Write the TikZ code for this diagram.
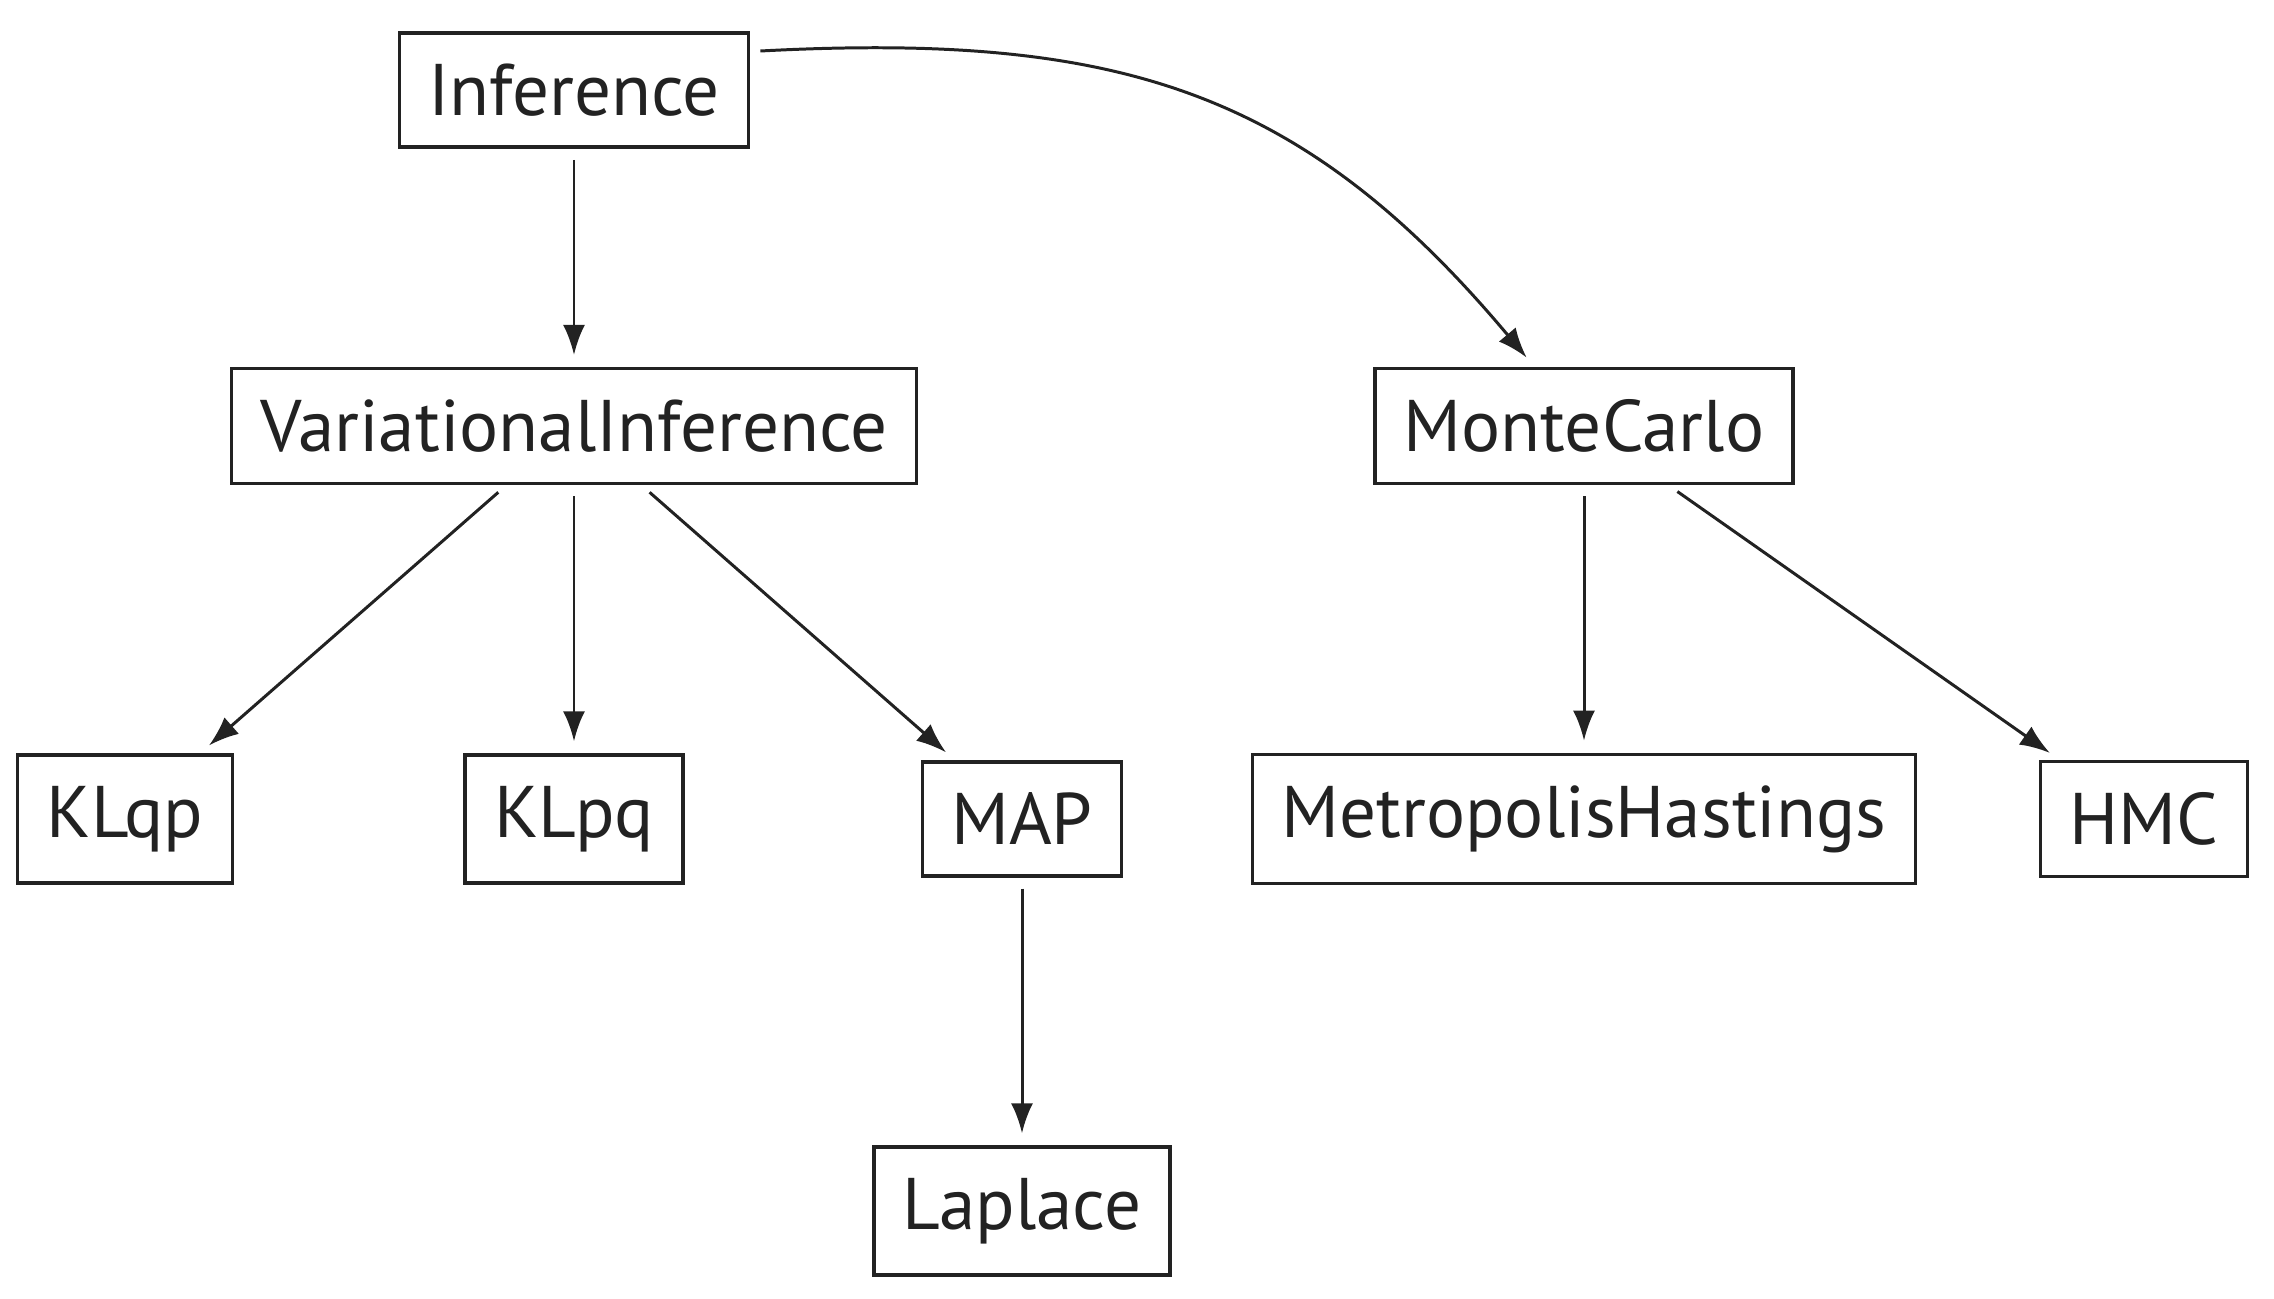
\documentclass[tikz,border=0pt]{standalone}
\usepackage{fontspec}
\setmainfont{PT Sans}
\usepackage{tikz}
\usetikzlibrary{arrows.meta, positioning}
\definecolor{ink}{HTML}{222222}

\begin{document}
\begin{tikzpicture}[
    box/.style={draw=ink, line width=1pt, fill=white, inner xsep=0.29cm,
                inner ysep=0.31cm, text=ink, font=\fontsize{20.8}{25}\selectfont},
    link/.style={-{Latex[length=0.3cm, width=0.22cm]}, draw=ink, line width=0.85pt,
                 shorten <=0.11cm, shorten >=0.12cm}]
  \useasboundingbox (0,0) rectangle (22.74,12.98);

  % Root
  \node[box] (inference) at (5.74, 12.08) {Inference};

  % Families
  \node[box] (variational) at (5.74, 8.72) {VariationalInference};
  \node[box] (montecarlo) at (15.84, 8.72) {MonteCarlo};

  % Algorithms
  \node[box] (klqp) at (1.25, 4.79) {KLqp};
  \node[box] (klpq) at (5.74, 4.79) {KLpq};
  \node[box] (map) at (10.22, 4.79) {MAP};
  \node[box] (metropolis) at (15.84, 4.79) {MetropolisHastings};
  \node[box] (hmc) at (21.44, 4.79) {HMC};
  \node[box] (laplace) at (10.22, 0.87) {Laplace};

  % Edges
  \draw[link] (inference) -- (variational);
  \draw[link, shorten <=0pt] ([xshift=0.1cm, yshift=0.39cm]inference.east)
    to[out=3, in=130, looseness=1.1] (montecarlo);
  \draw[link] (variational) -- (klqp);
  \draw[link] (variational) -- (klpq);
  \draw[link] (variational) -- (map);
  \draw[link] (map) -- (laplace);
  \draw[link] (montecarlo) -- (metropolis);
  \draw[link] (montecarlo) -- (hmc);
\end{tikzpicture}
\end{document}
